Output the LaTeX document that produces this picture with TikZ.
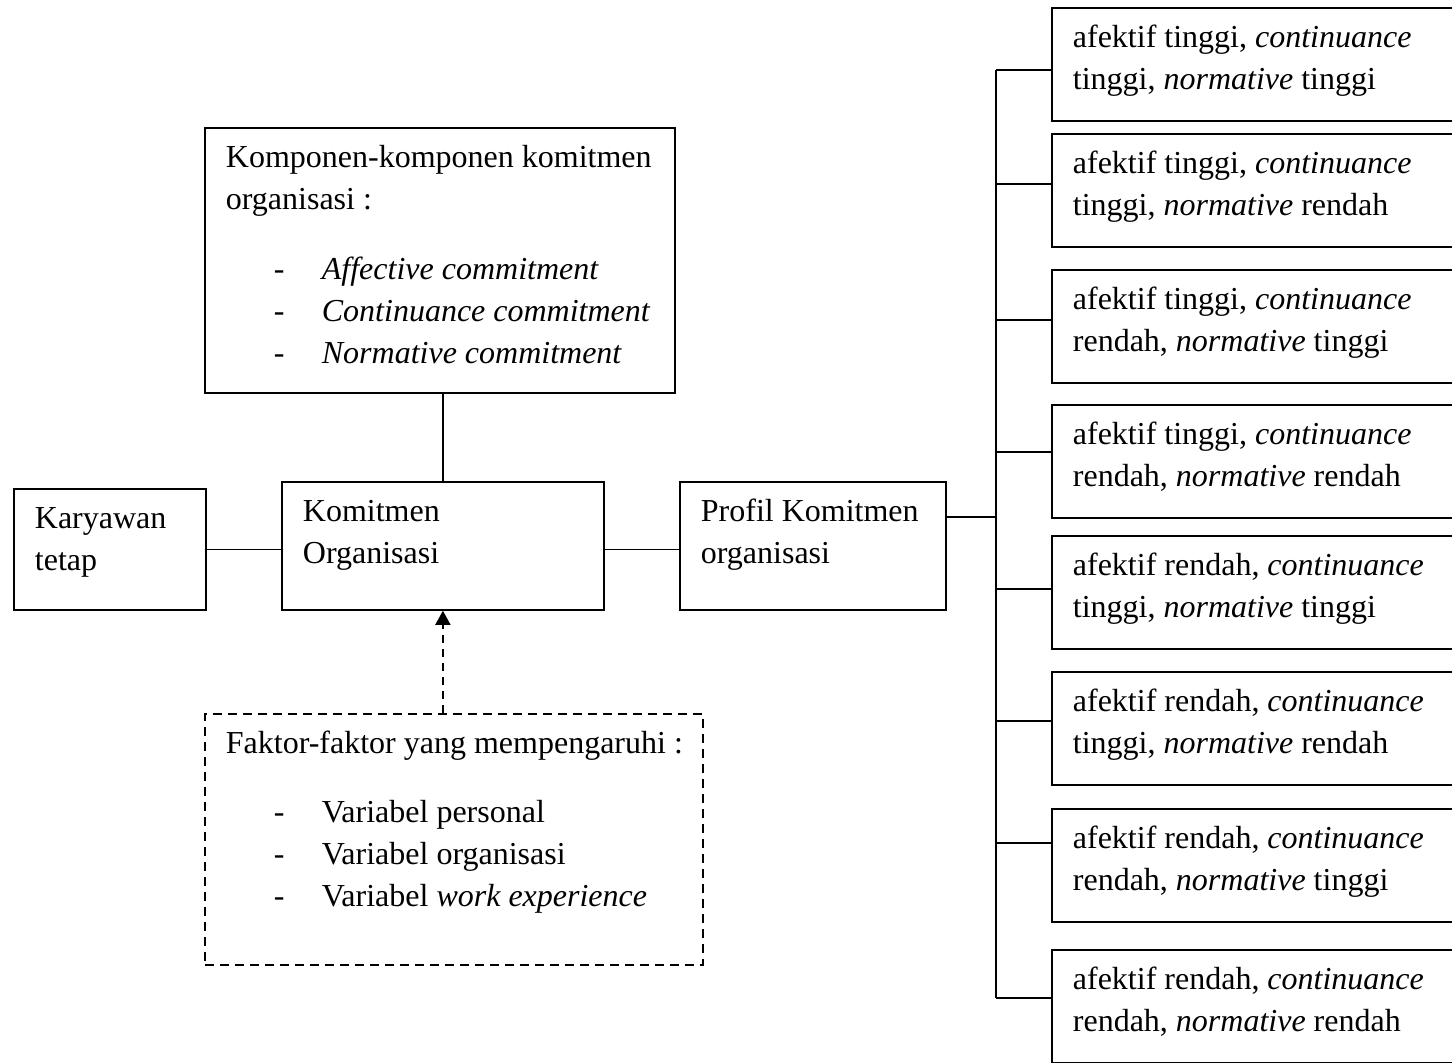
\documentclass[tikz,border=0pt]{standalone}
\usepackage{fontspec}
\setmainfont{Liberation Serif}
\usepackage{tikz}
\usetikzlibrary{positioning,arrows.meta}

\newcommand{\isikotak}[3]{\parbox[c][#1][t]{#2}{\raggedright\strut #3}}
\newcommand{\butir}[1]{\hspace*{24pt}\makebox[24pt][l]{-}#1}
\newcommand{\pola}[3]{afektif #1, \textit{continuance}\\#2, \textit{normative} #3}

\begin{document}
\begin{tikzpicture}[x=0.5pt,y=-0.5pt,
  kotak/.style={draw,line width=0.9pt,anchor=north west,inner xsep=10.5pt,inner ysep=5.3pt,
    font=\fontsize{16}{21}\selectfont},
  garis/.style={line width=0.9pt}]
  \useasboundingbox (0,0) rectangle (1452,1062);

  \node[kotak] (karyawan) at (13,488) {\isikotak{49.9pt}{75pt}{Karyawan\\tetap}};
  \node[kotak] (komitmen) at (281,481) {\isikotak{53.4pt}{140pt}{Komitmen\\Organisasi}};
  \node[kotak] (profil) at (679,481) {\isikotak{53.4pt}{112pt}{Profil Komitmen\\organisasi}};
  \node[kotak] (komponen) at (204,127) {\isikotak{121.9pt}{214pt}{Komponen-komponen komitmen\\organisasi :\\[14pt]
    \butir{\textit{Affective commitment}}\\\butir{\textit{Continuance commitment}}\\\butir{\textit{Normative commitment}}}};
  \node[kotak,dash pattern=on 4.5pt off 3pt] (faktor) at (204,713) {\isikotak{114.9pt}{228pt}{\mbox{Faktor-faktor yang mempengaruhi :}\\[13.5pt]
    \butir{Variabel personal}\\\butir{Variabel organisasi}\\\butir{Variabel \textit{work experience}}}};

  \node[kotak] (p1) at (1051,7) {\isikotak{46pt}{189pt}{\pola{tinggi}{tinggi}{tinggi}}};
  \node[kotak] (p2) at (1051,133) {\isikotak{46pt}{189pt}{\pola{tinggi}{tinggi}{rendah}}};
  \node[kotak] (p3) at (1051,269) {\isikotak{46pt}{189pt}{\pola{tinggi}{rendah}{tinggi}}};
  \node[kotak] (p4) at (1051,404) {\isikotak{46pt}{189pt}{\pola{tinggi}{rendah}{rendah}}};
  \node[kotak] (p5) at (1051,535) {\isikotak{46pt}{189pt}{\pola{rendah}{tinggi}{tinggi}}};
  \node[kotak] (p6) at (1051,671) {\isikotak{46pt}{189pt}{\pola{rendah}{tinggi}{rendah}}};
  \node[kotak] (p7) at (1051,808) {\isikotak{46pt}{189pt}{\pola{rendah}{rendah}{tinggi}}};
  \node[kotak] (p8) at (1051,949) {\isikotak{46pt}{189pt}{\pola{rendah}{rendah}{rendah}}};

  \coordinate (b1) at (996,70);
  \coordinate (b2) at (996,184);
  \coordinate (b3) at (996,320);
  \coordinate (b4) at (996,452);
  \coordinate (b5) at (996,589);
  \coordinate (b6) at (996,721);
  \coordinate (b7) at (996,843);
  \coordinate (b8) at (996,998);
  \coordinate (bp) at (996,517);

  \draw[garis] (karyawan.east) -- (karyawan.east -| komitmen.west);
  \draw[garis] (komitmen.east |- karyawan.east) -- (profil.west |- karyawan.east);
  \draw[garis] (komitmen.north) -- (komitmen.north |- komponen.south);
  \draw[garis,dash pattern=on 4pt off 3pt,-{Triangle[width=7.5pt,length=7pt]}] (komitmen.south |- faktor.north) -- (komitmen.south);

  \draw[garis] (bp -| profil.east) -- (bp);
  \draw[garis] (b1) -- (b8);
  \draw[garis] (b1) -- (b1 -| p1.west);
  \draw[garis] (b2) -- (b2 -| p2.west);
  \draw[garis] (b3) -- (b3 -| p3.west);
  \draw[garis] (b4) -- (b4 -| p4.west);
  \draw[garis] (b5) -- (b5 -| p5.west);
  \draw[garis] (b6) -- (b6 -| p6.west);
  \draw[garis] (b7) -- (b7 -| p7.west);
  \draw[garis] (b8) -- (b8 -| p8.west);
\end{tikzpicture}
\end{document}
